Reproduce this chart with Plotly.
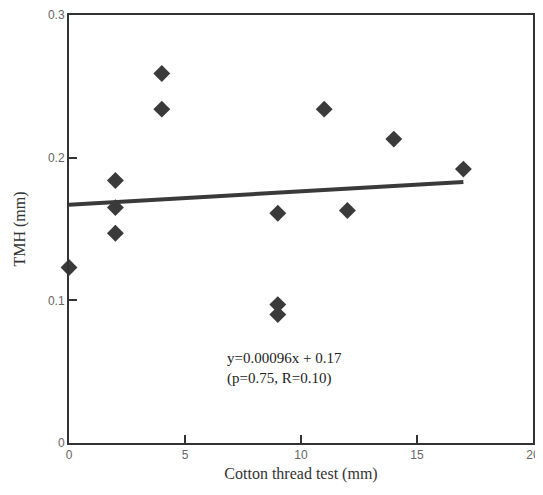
import plotly.graph_objects as go

# data
cotton_mm = [0, 2, 2, 2, 4, 4, 9, 9, 9, 11, 12, 14, 17]
tmh_mm = [0.123, 0.184, 0.165, 0.147, 0.259, 0.234, 0.161, 0.097, 0.090, 0.234, 0.163, 0.213, 0.192]
fit_x = [0, 17]
fit_y = [0.167, 0.183]
x_ticks = [0, 5, 10, 15, 20]
y_ticks = [0, 0.1, 0.2, 0.3]
y_tick_labels = ["0", "0.1", "0.2", "0.3"]
eq_text = "y=0.00096x + 0.17<br>(p=0.75, R=0.10)"

ink = "#3a3a3a"
fig = go.Figure()
fig.add_trace(go.Scatter(x=fit_x, y=fit_y, mode="lines",
                         line=dict(color=ink, width=4), showlegend=False))
fig.add_trace(go.Scatter(x=cotton_mm, y=tmh_mm, mode="markers", cliponaxis=False,
                         marker=dict(symbol="diamond", size=13, color=ink,
                                     line=dict(width=0)), showlegend=False))

fig.add_annotation(x=9.3, y=0.052, xref="x", yref="y", text=eq_text, showarrow=False,
                   font=dict(family="Liberation Serif", size=15, color="#222"), align="left")

axis_common = dict(showgrid=False, zeroline=False, showline=True, linecolor="#333",
                   linewidth=2, mirror=True, ticks="inside", ticklen=8, tickwidth=2,
                   tickcolor="#333", automargin=False, ticklabeloverflow="allow",
                   tickfont=dict(family="Liberation Sans", size=12, color="#666"))
fig.update_xaxes(range=[0, 20], tickvals=x_ticks,
                 title=dict(text="Cotton thread test (mm)", standoff=11,
                            font=dict(family="Liberation Serif", size=16, color="#333")),
                 **axis_common)
fig.update_yaxes(range=[0, 0.3], tickvals=y_ticks, ticktext=y_tick_labels,
                 title=dict(text="TMH (mm)", standoff=18,
                            font=dict(family="Liberation Serif", size=16, color="#333")),
                 **axis_common)
fig.update_layout(width=535, height=475, margin=dict(l=61, r=10, t=7, b=40),
                  plot_bgcolor="white", paper_bgcolor="white")
fig.write_html("out.html")
